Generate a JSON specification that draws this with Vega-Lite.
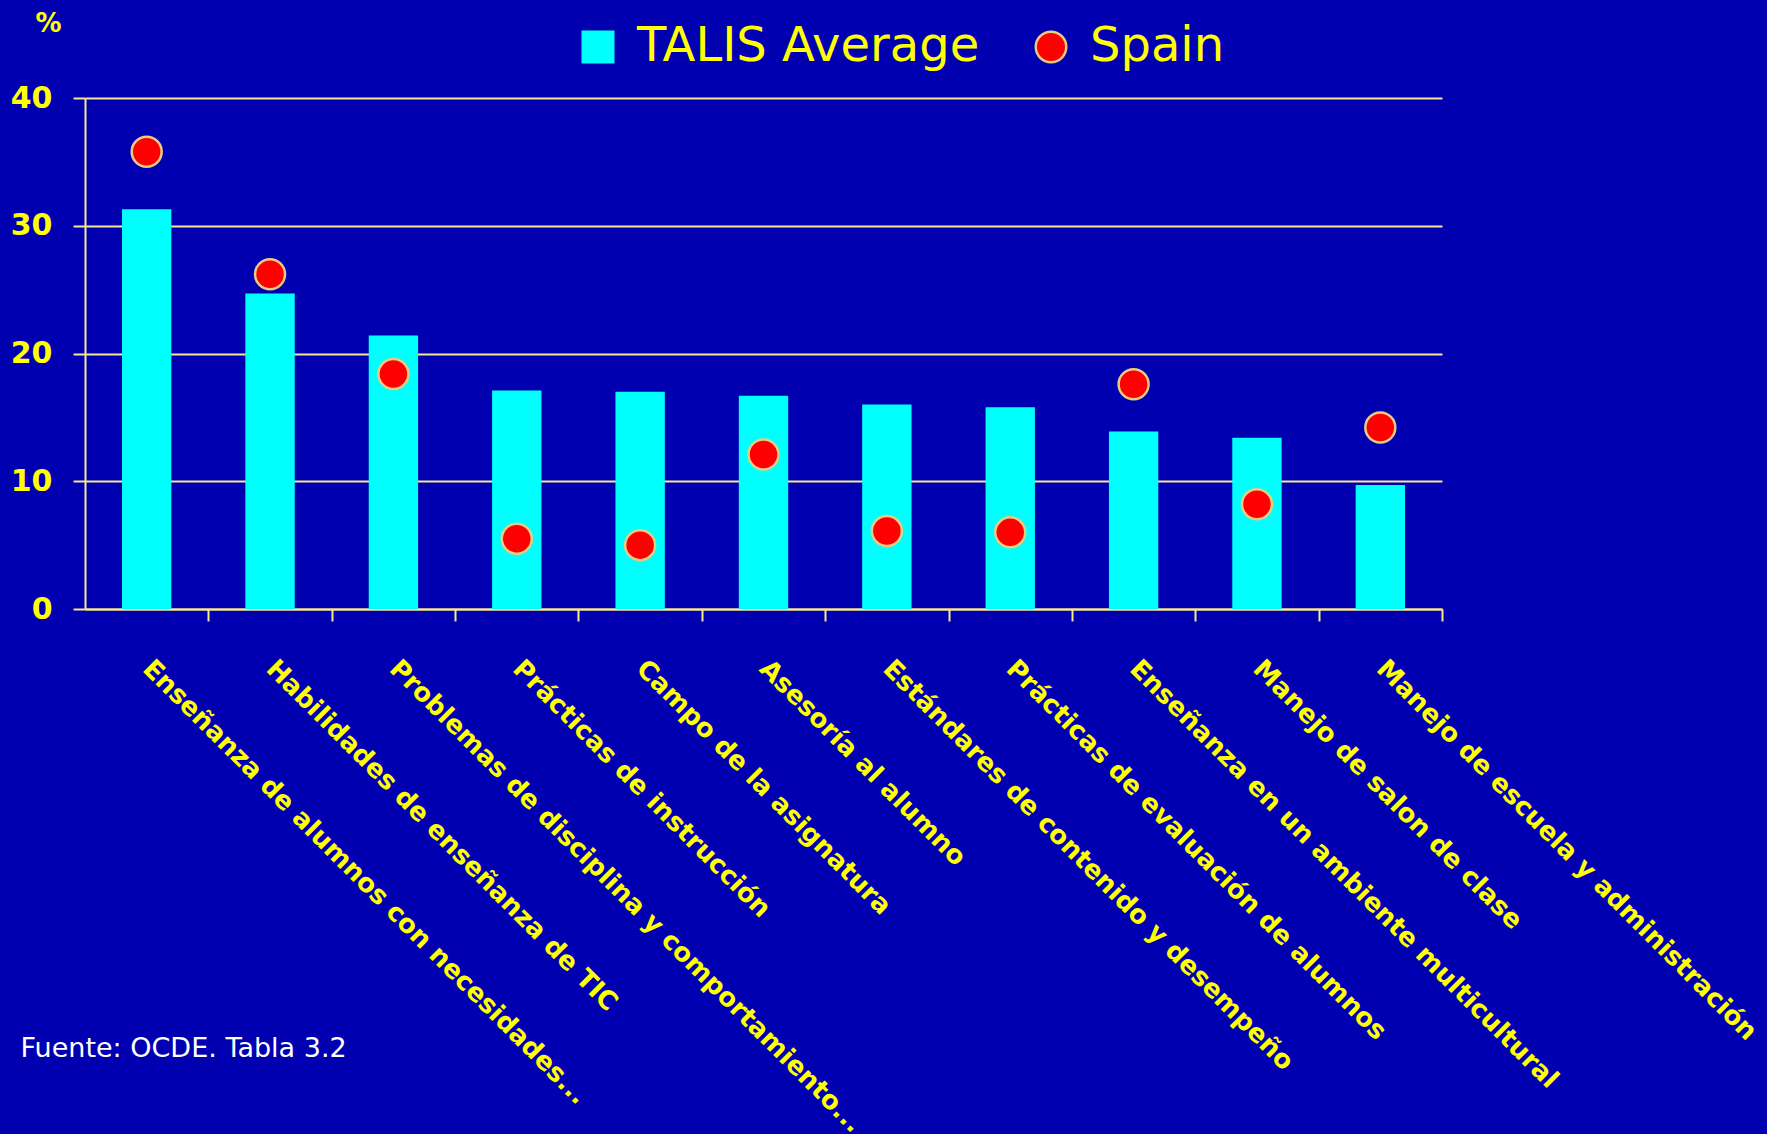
{
  "$schema": "https://vega.github.io/schema/vega-lite/v6.json",
  "autosize": {"type": "none"},
  "width": 1357,
  "height": 511,
  "padding": {"left": 85, "top": 98, "right": 325, "bottom": 525},
  "background": "#0000B0",
  "config": {
    "view": {"stroke": null},
    "font": "DejaVu Sans",
    "axis": {
      "domainColor": "#F8E890",
      "domainWidth": 2,
      "tickColor": "#F8E890",
      "tickWidth": 2,
      "tickSize": 12,
      "gridColor": "#F8E890",
      "gridWidth": 2,
      "labelColor": "#FFFF00",
      "labelFont": "DejaVu Sans",
      "labelFontWeight": "bold"
    }
  },
  "data": {
    "values": [
      {"categoria": "Enseñanza de alumnos con necesidades...", "serie": "TALIS Average", "valor": 31.3},
      {"categoria": "Habilidades de enseñanza de TIC", "serie": "TALIS Average", "valor": 24.7},
      {"categoria": "Problemas de disciplina y comportamiento...", "serie": "TALIS Average", "valor": 21.4},
      {"categoria": "Prácticas de instrucción", "serie": "TALIS Average", "valor": 17.1},
      {"categoria": "Campo de la asignatura", "serie": "TALIS Average", "valor": 17.0},
      {"categoria": "Asesoría al alumno", "serie": "TALIS Average", "valor": 16.7},
      {"categoria": "Estándares de contenido y desempeño", "serie": "TALIS Average", "valor": 16.0},
      {"categoria": "Prácticas de evaluación de alumnos", "serie": "TALIS Average", "valor": 15.8},
      {"categoria": "Enseñanza en un ambiente multicultural", "serie": "TALIS Average", "valor": 13.9},
      {"categoria": "Manejo de salon de clase", "serie": "TALIS Average", "valor": 13.4},
      {"categoria": "Manejo de escuela y administración", "serie": "TALIS Average", "valor": 9.7},
      {"categoria": "Enseñanza de alumnos con necesidades...", "serie": "Spain", "valor": 35.8},
      {"categoria": "Habilidades de enseñanza de TIC", "serie": "Spain", "valor": 26.2},
      {"categoria": "Problemas de disciplina y comportamiento...", "serie": "Spain", "valor": 18.4},
      {"categoria": "Prácticas de instrucción", "serie": "Spain", "valor": 5.5},
      {"categoria": "Campo de la asignatura", "serie": "Spain", "valor": 5.0},
      {"categoria": "Asesoría al alumno", "serie": "Spain", "valor": 12.1},
      {"categoria": "Estándares de contenido y desempeño", "serie": "Spain", "valor": 6.1},
      {"categoria": "Prácticas de evaluación de alumnos", "serie": "Spain", "valor": 6.0},
      {"categoria": "Enseñanza en un ambiente multicultural", "serie": "Spain", "valor": 17.6},
      {"categoria": "Manejo de salon de clase", "serie": "Spain", "valor": 8.2},
      {"categoria": "Manejo de escuela y administración", "serie": "Spain", "valor": 14.2}
    ]
  },
  "encoding": {
    "x": {
      "field": "categoria",
      "type": "nominal",
      "sort": null,
      "scale": {"paddingInner": 0.6, "paddingOuter": 0.3},
      "axis": {
        "title": "Fuente: OCDE. Tabla 3.2",
        "titleColor": "#FFFFFF",
        "titleFont": "DejaVu Sans",
        "titleFontWeight": "normal",
        "titleFontSize": 27,
        "titleAngle": 0,
        "titleAlign": "left",
        "titleBaseline": "middle",
        "titleAnchor": "start",
        "titleX": -65,
        "titleY": 439,
        "labelAngle": 45,
        "labelAlign": "left",
        "labelBaseline": "middle",
        "labelFontSize": 26,
        "labelPadding": 43,
        "labelLimit": 0,
        "labelOverlap": false,
        "tickOffset": 61.7,
        "labelOffset": -61.7,
        "grid": false
      }
    },
    "y": {
      "field": "valor",
      "type": "quantitative",
      "scale": {"domain": [0, 40], "nice": false},
      "axis": {
        "values": [0, 10, 20, 30, 40],
        "grid": true,
        "title": "%",
        "titleColor": "#FFFF00",
        "titleFont": "DejaVu Sans",
        "titleFontWeight": "bold",
        "titleFontSize": 26,
        "titleAngle": 0,
        "titleAlign": "center",
        "titleBaseline": "middle",
        "titleX": -37,
        "titleY": -75,
        "labelFontSize": 30,
        "labelPadding": 21
      }
    },
    "color": {
      "field": "serie",
      "type": "nominal",
      "scale": {"domain": ["TALIS Average", "Spain"], "range": ["#00FFFF", "#FF0000"]},
      "legend": {
        "title": null,
        "orient": "none",
        "direction": "horizontal",
        "legendX": 489,
        "legendY": -75,
        "padding": 0,
        "labelColor": "#FFFF00",
        "labelFont": "DejaVu Sans",
        "labelFontSize": 48,
        "labelOffset": 15,
        "labelLimit": 0,
        "symbolSize": 930,
        "symbolStrokeWidth": 2.5,
        "columnPadding": 47
      }
    }
  },
  "layer": [
    {
      "transform": [{"filter": "datum.serie === 'TALIS Average'"}],
      "mark": {"type": "bar"}
    },
    {
      "transform": [{"filter": "datum.serie === 'Spain'"}],
      "mark": {"type": "point", "filled": true, "opacity": 1, "size": 900, "strokeWidth": 2.5},
      "encoding": {
        "shape": {
          "field": "serie",
          "type": "nominal",
          "scale": {"domain": ["TALIS Average", "Spain"], "range": ["square", "circle"]}
        },
        "stroke": {
          "field": "serie",
          "type": "nominal",
          "scale": {"domain": ["TALIS Average", "Spain"], "range": ["#00FFFF", "#E8CC80"]}
        }
      }
    }
  ]
}
